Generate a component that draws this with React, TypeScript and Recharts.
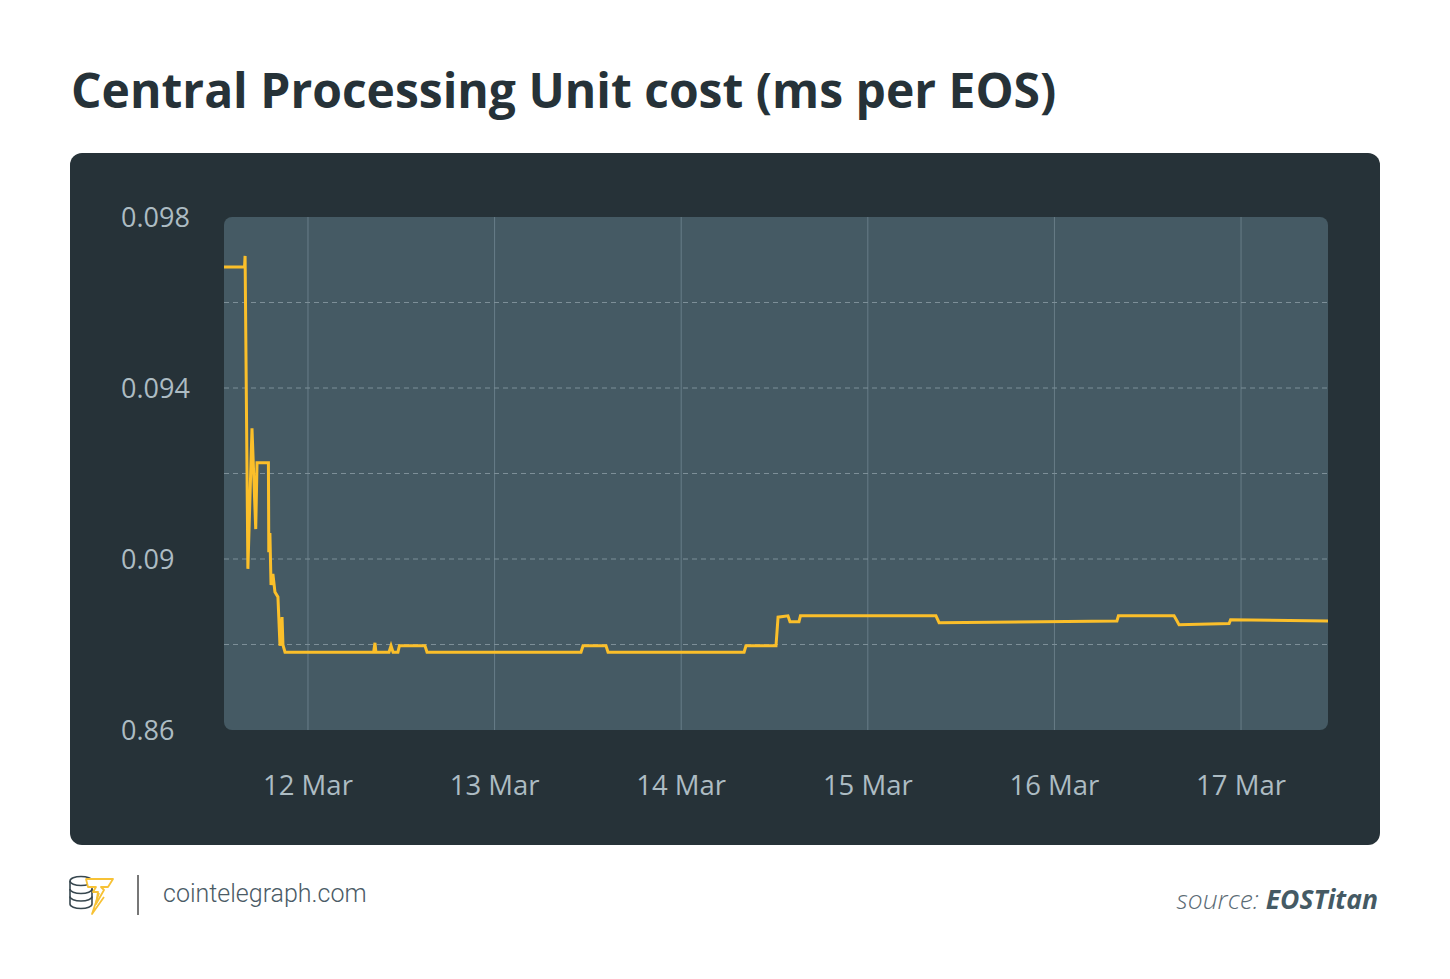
import { LineChart, Line, XAxis, YAxis, CartesianGrid } from 'recharts';

// time in days of March (12 = 12 Mar 00:00), CPU cost in ms per EOS
const times = [
  11.55, 11.66, 11.663, 11.678, 11.7, 11.72, 11.727, 11.788, 11.79, 11.796,
  11.802, 11.812, 11.823, 11.839, 11.85, 11.861, 11.866, 11.877, 12.352, 12.359,
  12.364, 12.434, 12.445, 12.456, 12.482, 12.49, 12.627, 12.638, 13.463, 13.474,
  13.597, 13.608, 14.337, 14.347, 14.508, 14.519, 14.572, 14.583, 14.631, 14.639,
  15.365, 15.382, 16.335, 16.343, 16.641, 16.657, 16.668, 16.936, 16.944, 17.466,
];
const cpuCost = [
  0.09683, 0.09683, 0.09709, 0.08977, 0.09306, 0.0907, 0.09225, 0.09225, 0.09016, 0.09061,
  0.08939, 0.08965, 0.08923, 0.08911, 0.08797, 0.08864, 0.08799, 0.08782, 0.08782, 0.08804,
  0.08782, 0.08782, 0.08797, 0.08782, 0.08782, 0.08797, 0.08797, 0.08782, 0.08782, 0.08797,
  0.08797, 0.08782, 0.08782, 0.08797, 0.08797, 0.08864, 0.08867, 0.08853, 0.08853, 0.08867,
  0.08867, 0.08851, 0.08855, 0.08867, 0.08867, 0.08855, 0.08846, 0.08849, 0.08858, 0.08855,
];

const xTicks = [12, 13, 14, 15, 16, 17];
const yTickValues = [0.086, 0.09, 0.094, 0.098];
const yTickLabels = ['0.86', '0.09', '0.094', '0.098'];
const yGridValues = [0.088, 0.09, 0.092, 0.094, 0.096];

const data = times.map((t, i) => ({ t, cost: cpuCost[i] }));

const tickFill = '#adbcc3';

function YTick(props: any) {
  const { y, payload } = props;
  const idx = yTickValues.findIndex((v) => Math.abs(v - payload.value) < 1e-9);
  if (idx < 0) return null;
  return (
    <text x={51} y={y + 1} dy="0.35em" textAnchor="start" fill={tickFill}
      fontFamily="'Open Sans', sans-serif" fontSize={27}>
      {yTickLabels[idx]}
    </text>
  );
}

function XTick(props: any) {
  const { x, y, payload } = props;
  return (
    <text x={x} y={y + 47} dy="0.35em" textAnchor="middle" fill={tickFill}
      fontFamily="'Open Sans', sans-serif" fontSize={27.5}>
      {`${payload.value} Mar`}
    </text>
  );
}

export default function App() {
  return (
    <div style={{ position: 'relative', width: 1450, height: 979, margin: -8, background: '#fff' }}>
      <svg width={1450} height={979} style={{ position: 'absolute', left: 0, top: 0 }}>
        <text x={71} y={108} fontFamily="'Open Sans', sans-serif" fontWeight={700}
          fontSize={48} fill="#263238">
          Central Processing Unit cost (ms per EOS)
        </text>

        {/* coin stack logo */}
        <g fill="none" stroke="#37474f" strokeWidth={1.6}>
          <ellipse cx={81} cy={881} rx={11} ry={4.5} />
          <path d="M70 881 V904 M92 881 V904" />
          <path d="M70 889 A11 4.5 0 0 0 92 889" />
          <path d="M70 896.5 A11 4.5 0 0 0 92 896.5" />
          <path d="M70 904 A11 4.5 0 0 0 92 904" />
        </g>
        <path d="M86 879 L113 879 L108 887 L101 887 L104 890 L96 904 L98 892 L93 892 L96 887 L88 887 Z"
          fill="#fff" stroke="#f7c236" strokeWidth={1.8} strokeLinejoin="round" />
        <path d="M99 893 L92 914 L104 897" fill="none" stroke="#f7c236" strokeWidth={1.8} strokeLinejoin="round" />
        <line x1={138} y1={875} x2={138} y2={915} stroke="#777" strokeWidth={2} />
        <text x={163} y={902} fontFamily="Roboto, sans-serif" fontWeight={300} fontSize={25} fill="#4b5b66">
          cointelegraph.com
        </text>

        <text x={1378} y={909} textAnchor="end" fontFamily="'Open Sans', sans-serif" fontSize={26.5} fontStyle="italic">
          <tspan fill="#5b6b75" fontWeight={300}>source: </tspan>
          <tspan fill="#455a64" fontWeight={700}>EOSTitan</tspan>
        </text>
      </svg>

      <div style={{
        position: 'absolute', left: 70, top: 153, width: 1310, height: 692,
        background: '#263238', borderRadius: 12,
      }}>
        <div style={{
          position: 'absolute', left: 154, top: 64, width: 1104, height: 513,
          background: '#455a64', borderRadius: 8,
        }} />
        <LineChart width={1310} height={692} data={data}
          margin={{ top: 64, right: 52, bottom: 0, left: 0 }}>
          <CartesianGrid horizontal={false} verticalValues={xTicks} stroke="#687d88" strokeWidth={1} />
          <CartesianGrid vertical={false} horizontalValues={yGridValues}
            stroke="#7d8f98" strokeDasharray="5 4" strokeWidth={1} />
          <XAxis type="number" dataKey="t" domain={[11.55, 17.466]} ticks={xTicks}
            axisLine={false} tickLine={false} height={115} tick={<XTick />} interval={0} />
          <YAxis type="number" domain={[0.086, 0.098]} ticks={yTickValues}
            axisLine={false} tickLine={false} width={154} tick={<YTick />} interval={0} />
          <Line type="linear" dataKey="cost" stroke="#fbbf2a" strokeWidth={3}
            dot={false} activeDot={false} isAnimationActive={false} />
        </LineChart>
      </div>
    </div>
  );
}
